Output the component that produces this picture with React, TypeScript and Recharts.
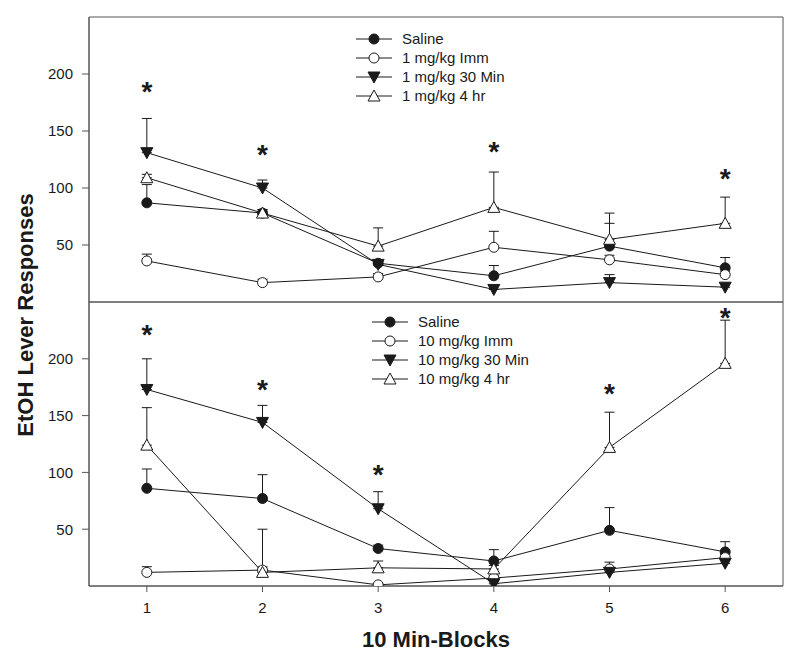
import {
  ComposedChart,
  Line,
  Scatter,
  XAxis,
  YAxis,
  ErrorBar,
  ReferenceArea,
} from "recharts";

const blocks = [1, 2, 3, 4, 5, 6];
const yTicks = [50, 100, 150, 200];

// 1 mg/kg panel
const topNames = ["Saline", "1 mg/kg Imm", "1 mg/kg 30 Min", "1 mg/kg 4 hr"];
const saline1 = [87, 78, 34, 23, 49, 30];
const saline1Err = [16, 3, 3, 9, 20, 9];
const imm1 = [36, 17, 22, 48, 37, 24];
const imm1Err = [6, 3, 3, 14, 4, 3];
const min30_1 = [131, 100, 33, 11, 17, 13];
const min30_1Err = [30, 7, 3, 3, 7, 3];
const hr4_1 = [109, 78, 49, 83, 55, 69];
const hr4_1Err = [3, 3, 16, 31, 23, 23];
const stars1 = [190, 135, null, 138, null, 114];

// 10 mg/kg panel
const bottomNames = ["Saline", "10 mg/kg Imm", "10 mg/kg 30 Min", "10 mg/kg 4 hr"];
const saline10 = [86, 77, 33, 22, 49, 30];
const saline10Err = [17, 21, 3, 10, 20, 9];
const imm10 = [12, 14, 1, 7, 15, 25];
const imm10Err = [5, 3, 1, 2, 6, 3];
const min30_10 = [173, 144, 68, 2, 12, 20];
const min30_10Err = [27, 15, 15, 2, 3, 3];
const hr4_10 = [124, 12, 16, 15, 122, 196];
const hr4_10Err = [33, 38, 6, 3, 31, 38];
const stars10 = [227, 179, 104, null, 175, 242];

const INK = "#1a1a1a";
const AXIS = "#555";
const FONT = "'Liberation Sans', Arial, sans-serif";

function buildRows(s: number[], sE: number[], i: number[], iE: number[], m: number[], mE: number[], h: number[], hE: number[]) {
  return blocks.map((b, k) => ({
    block: b,
    saline: s[k],
    salineErr: [0, sE[k]],
    imm: i[k],
    immErr: [0, iE[k]],
    min30: m[k],
    min30Err: [0, mE[k]],
    hr4: h[k],
    hr4Err: [0, hE[k]],
  }));
}

function buildStars(stars: (number | null)[]) {
  return blocks
    .map((b, k) => ({ block: b, star: stars[k] }))
    .filter((d) => d.star !== null);
}

const topData = buildRows(saline1, saline1Err, imm1, imm1Err, min30_1, min30_1Err, hr4_1, hr4_1Err);
const bottomData = buildRows(saline10, saline10Err, imm10, imm10Err, min30_10, min30_10Err, hr4_10, hr4_10Err);

type Kind = "filledCircle" | "openCircle" | "downTri" | "upTri";
const kinds: Kind[] = ["filledCircle", "openCircle", "downTri", "upTri"];

function Marker({ kind, cx, cy }: { kind: Kind; cx: number; cy: number }) {
  if (cx == null || cy == null || isNaN(cx) || isNaN(cy)) return null;
  if (kind === "filledCircle")
    return <circle cx={cx} cy={cy} r={5} fill={INK} stroke={INK} strokeWidth={1} />;
  if (kind === "openCircle")
    return <circle cx={cx} cy={cy} r={5} fill="#fff" stroke={INK} strokeWidth={1} />;
  if (kind === "downTri")
    return (
      <polygon
        points={`${cx - 6},${cy - 5} ${cx + 6},${cy - 5} ${cx},${cy + 6}`}
        fill={INK}
        stroke={INK}
        strokeWidth={1}
      />
    );
  return (
    <polygon
      points={`${cx - 6},${cy + 5} ${cx + 6},${cy + 5} ${cx},${cy - 6}`}
      fill="#fff"
      stroke={INK}
      strokeWidth={1}
    />
  );
}

const dotFor = (kind: Kind) => (props: any) =>
  <Marker key={`${kind}-${props.index}`} kind={kind} cx={props.cx} cy={props.cy} />;

const starShape = (props: any) => (
  <text
    x={props.cx}
    y={props.cy + 16}
    textAnchor="middle"
    fontSize={28}
    fontWeight="bold"
    fontFamily={FONT}
    fill={INK}
  >
    *
  </text>
);

function PanelLegend({ names, left, top }: { names: string[]; left: number; top: number }) {
  return (
    <svg
      width={230}
      height={80}
      style={{ position: "absolute", left, top, overflow: "visible", pointerEvents: "none" }}
    >
      {names.map((n, k) => {
        const y = 10 + k * 19;
        return (
          <g key={n}>
            <line x1={0} y1={y} x2={36} y2={y} stroke={INK} strokeWidth={1} />
            <Marker kind={kinds[k]} cx={18} cy={y} />
            <text x={46} y={y + 5} fontSize={15} fontFamily={FONT} fill={INK}>
              {n}
            </text>
          </g>
        );
      })}
    </svg>
  );
}

function Panel({
  data,
  stars,
  showX,
}: {
  data: any[];
  stars: (number | null)[];
  showX: boolean;
}) {
  const keys = ["saline", "imm", "min30", "hr4"];
  return (
    <ComposedChart
      width={800}
      height={showX ? 365 : 303}
      data={data}
      margin={{ top: showX ? 1 : 17, right: 17, bottom: showX ? 0 : 1, left: 29 }}
    >
      <XAxis
        dataKey="block"
        type="number"
        domain={[0.5, 6.5]}
        ticks={blocks}
        hide={!showX}
        height={80}
        stroke={AXIS}
        tickSize={6}
        tickMargin={10}
        tick={{ fontSize: 15, fill: INK, fontFamily: FONT }}
        label={
          showX
            ? {
                value: "10 Min-Blocks",
                position: "insideTop",
                offset: 45,
                fontSize: 22,
                fontWeight: "bold",
                fontFamily: FONT,
                fill: INK,
              }
            : undefined
        }
      />
      <YAxis
        type="number"
        domain={[0, 250]}
        ticks={yTicks}
        width={60}
        stroke={AXIS}
        tickSize={7}
        tickMargin={9}
        allowDataOverflow
        tick={{ fontSize: 15, fill: INK, fontFamily: FONT }}
      />
      <ReferenceArea x1={0.5} x2={6.5} y1={0} y2={250} fill="none" stroke={AXIS} strokeWidth={1} />
      {keys.map((k, i) => (
        <Line
          key={k}
          dataKey={k}
          stroke={INK}
          strokeWidth={1}
          dot={dotFor(kinds[i])}
          activeDot={false}
          isAnimationActive={false}
        >
          <ErrorBar dataKey={`${k}Err`} direction="y" width={5} stroke={INK} strokeWidth={1} />
        </Line>
      ))}
      <Scatter
        data={buildStars(stars)}
        dataKey="star"
        shape={starShape}
        isAnimationActive={false}
      />
    </ComposedChart>
  );
}

export default function App() {
  return (
    <div style={{ position: "absolute", left: 0, top: 0, width: 800, height: 666, background: "#fff" }}>
      <div style={{ position: "absolute", left: 0, top: 0 }}>
        <Panel data={topData} stars={stars1} showX={false} />
      </div>
      <div style={{ position: "absolute", left: 0, top: 301 }}>
        <Panel data={bottomData} stars={stars10} showX={true} />
      </div>
      <PanelLegend names={topNames} left={356} top={29} />
      <PanelLegend names={bottomNames} left={372} top={312} />
      <svg
        width={60}
        height={666}
        style={{ position: "absolute", left: 0, top: 0, pointerEvents: "none" }}
      >
        <text
          x={33}
          y={315}
          transform="rotate(-90 33 315)"
          textAnchor="middle"
          fontSize={22}
          fontWeight="bold"
          fontFamily={FONT}
          fill={INK}
        >
          EtOH Lever Responses
        </text>
      </svg>
    </div>
  );
}
